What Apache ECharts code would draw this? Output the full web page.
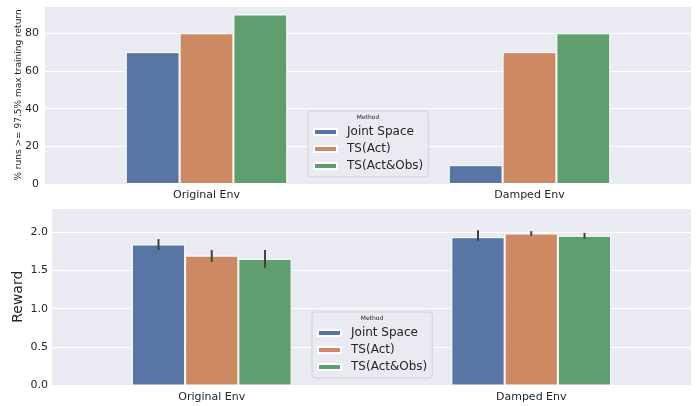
<!DOCTYPE html>
<html>
<head>
<meta charset="utf-8">
<script src="https://cdn.jsdelivr.net/npm/echarts@6/dist/echarts.min.js"></script>
<style>
  html, body { margin: 0; padding: 0; background: #ffffff; }
  #chart { width: 699px; height: 406px; }
</style>
</head>
<body>
<div id="chart"></div>
<script>
// Environments on the x axis and the three training methods
const categories = ['Original Env', 'Damped Env'];
const methods = ['Joint Space', 'TS(Act)', 'TS(Act&Obs)'];

// Top panel: % of runs reaching >= 97.5% of max training return
const pctJoint = [70, 10];
const pctAct = [80, 70];
const pctActObs = [90, 80];

// Bottom panel: mean reward per method
const rewardJoint = [1.835, 1.93];
const rewardAct = [1.69, 1.978];
const rewardActObs = [1.648, 1.948];

// Bottom panel: confidence interval [low, high] per environment
const ciJoint = [[1.762, 1.905], [1.883, 2.022]];
const ciAct = [[1.61, 1.762], [1.948, 2.009]];
const ciActObs = [[1.532, 1.762], [1.909, 1.987]];

const colors = ['#5975a4', '#cc8963', '#5f9e6e'];
const textColor = '#262626';
const FONT = 'DejaVu Sans';

const chart = echarts.init(document.getElementById('chart'), null, { renderer: 'canvas' });

function ciData(ci) {
  return ci.map((r, i) => [i, r[0], r[1]]);
}

// vertical error line centred on the bar with the given slot offset (-1, 0, 1)
function errRender(slot) {
  return function (params, api) {
    const x = api.value(0);
    const lo = api.coord([x, api.value(1)]);
    const hi = api.coord([x, api.value(2)]);
    const band = api.size([1, 0])[0];
    const dx = slot * band / 6;
    return {
      type: 'line',
      shape: { x1: lo[0] + dx, y1: lo[1], x2: hi[0] + dx, y2: hi[1] },
      style: { stroke: '#424242', lineWidth: 2 }
    };
  };
}

function barSeries(name, data, axisIdx, color) {
  return {
    type: 'bar', name: name, data: data,
    xAxisIndex: axisIdx, yAxisIndex: axisIdx,
    barCategoryGap: '50%', barGap: '0%',
    itemStyle: { color: color, borderColor: '#ffffff', borderWidth: 1 },
    emphasis: { disabled: true },
    animation: false
  };
}

function errSeries(ci, slot) {
  return {
    type: 'custom', name: 'ci' + slot,
    xAxisIndex: 1, yAxisIndex: 1,
    data: ciData(ci),
    encode: { x: 0, y: [1, 2] },
    renderItem: errRender(slot),
    z: 5, silent: true, animation: false
  };
}

const catAxis = (idx) => ({
  type: 'category', gridIndex: idx, data: categories,
  axisLine: { show: false }, axisTick: { show: false },
  axisLabel: { color: textColor, fontFamily: FONT, fontSize: 11, margin: 6 },
  splitLine: { show: false }
});

const legendCommon = {
  orient: 'vertical',
  data: methods,
  icon: 'rect',
  itemWidth: 23, itemHeight: 6, itemGap: 5,
  padding: [15, 5, 5, 5],
  backgroundColor: 'rgba(234,234,242,0.9)',
  borderColor: '#d0d0d8', borderWidth: 1, borderRadius: 3,
  textStyle: { color: textColor, fontFamily: FONT, fontSize: 12, padding: [0, 0, 0, 5] },
  selectedMode: false
};

const option = {
  backgroundColor: '#ffffff',
  animation: false,
  color: colors,
  grid: [
    { left: 45, right: 8, top: 6, height: 178, show: true, backgroundColor: '#eaeaf2', borderWidth: 0, containLabel: false, outerBoundsMode: 'none' },
    { left: 52, right: 8, top: 208, height: 177.5, show: true, backgroundColor: '#eaeaf2', borderWidth: 0, containLabel: false, outerBoundsMode: 'none' }
  ],
  xAxis: [catAxis(0), catAxis(1)],
  yAxis: [
    {
      type: 'value', gridIndex: 0, min: 0, max: 94.5, interval: 20,
      name: '% runs >= 97.5% max training return',
      nameLocation: 'middle', nameGap: 22, nameMoveOverlap: false,
      nameTextStyle: { color: textColor, fontFamily: FONT, fontSize: 9 },
      axisLine: { show: false }, axisTick: { show: false },
      axisLabel: { color: textColor, fontFamily: FONT, fontSize: 11, margin: 6, showMaxLabel: false },
      splitLine: { lineStyle: { color: '#ffffff', width: 1 } }
    },
    {
      type: 'value', gridIndex: 1, min: 0, max: 2.31, interval: 0.5,
      name: 'Reward',
      nameLocation: 'middle', nameGap: 27, nameMoveOverlap: false,
      nameTextStyle: { color: textColor, fontFamily: FONT, fontSize: 14 },
      axisLine: { show: false }, axisTick: { show: false },
      axisLabel: {
        color: textColor, fontFamily: FONT, fontSize: 11, margin: 4, showMaxLabel: false,
        formatter: (v) => v.toFixed(1)
      },
      splitLine: { lineStyle: { color: '#ffffff', width: 1 } }
    }
  ],
  legend: [
    Object.assign({ left: 308, top: 111 }, legendCommon),
    Object.assign({ left: 312, top: 312 }, legendCommon)
  ],
  graphic: [
    {
      type: 'text', z: 100, x: 368, y: 117,
      style: { text: 'Method', fill: textColor, font: '6px "DejaVu Sans"', textAlign: 'center', textVerticalAlign: 'middle' }
    },
    {
      type: 'text', z: 100, x: 372, y: 318,
      style: { text: 'Method', fill: textColor, font: '6px "DejaVu Sans"', textAlign: 'center', textVerticalAlign: 'middle' }
    }
  ],
  series: [
    barSeries(methods[0], pctJoint, 0, colors[0]),
    barSeries(methods[1], pctAct, 0, colors[1]),
    barSeries(methods[2], pctActObs, 0, colors[2]),
    barSeries(methods[0], rewardJoint, 1, colors[0]),
    barSeries(methods[1], rewardAct, 1, colors[1]),
    barSeries(methods[2], rewardActObs, 1, colors[2]),
    errSeries(ciJoint, -1),
    errSeries(ciAct, 0),
    errSeries(ciActObs, 1)
  ]
};

chart.setOption(option);
</script>
</body>
</html>
